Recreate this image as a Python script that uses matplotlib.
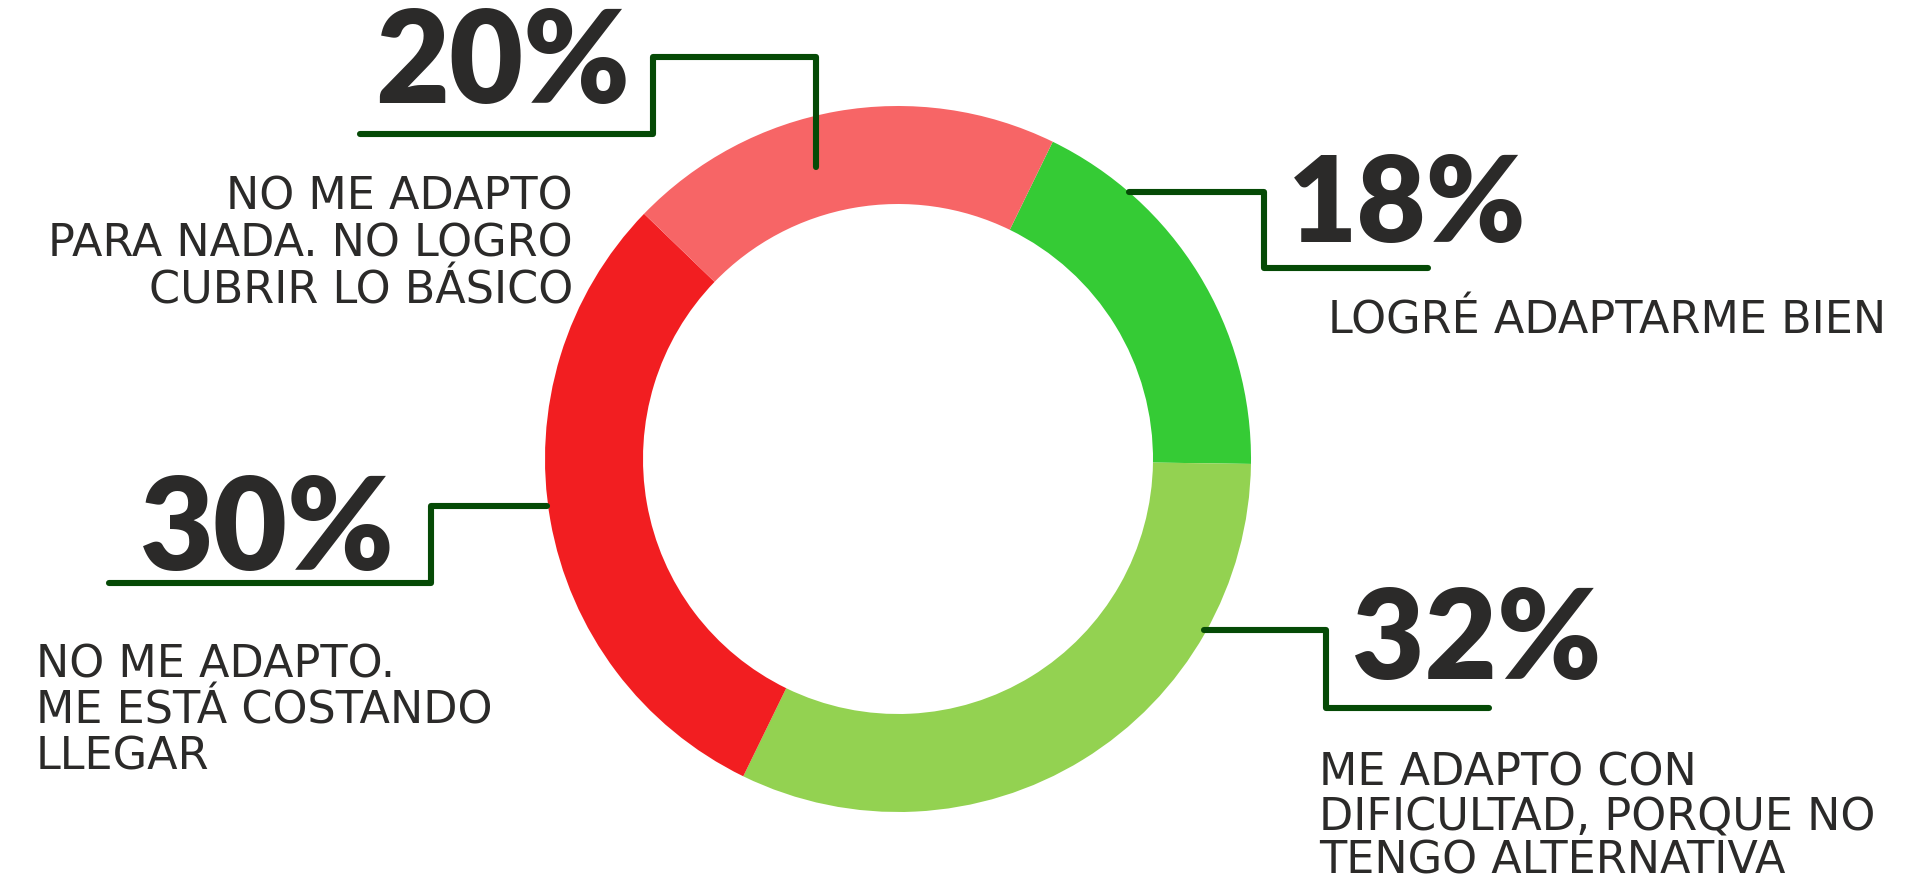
import matplotlib
matplotlib.use("Agg")
import matplotlib.pyplot as plt

# ---------------- data ----------------
categories = ["LOGRÉ ADAPTARME BIEN",
              "ME ADAPTO CON DIFICULTAD, PORQUE NO TENGO ALTERNATIVA",
              "NO ME ADAPTO. ME ESTÁ COSTANDO LLEGAR",
              "NO ME ADAPTO PARA NADA. NO LOGRO CUBRIR LO BÁSICO"]
percentages = [18, 32, 30, 20]
pct_labels = ["18%", "32%", "30%", "20%"]
label_lines = [
    ["LOGRÉ ADAPTARME BIEN"],
    ["ME ADAPTO CON", "DIFICULTAD, PORQUE NO", "TENGO ALTERNATIVA"],
    ["NO ME ADAPTO.", "ME ESTÁ COSTANDO", "LLEGAR"],
    ["NO ME ADAPTO", "PARA NADA. NO LOGRO", "CUBRIR LO BÁSICO"],
]
colors = ["#35CB35", "#93D251", "#F21E21", "#F76566"]

# ---------------- layout (pixel space) ----------------
W, H = 1919, 885
center = (898, 459)
r_out = 353
ring_w = 98
text_col = "#2B2A29"
line_col = "#054A06"

# big percentage: (x, baseline, ha)
pct_pos = [(1288, 242, "left"), (1352, 679, "left"), (140, 570, "left"), (375, 103, "left")]
pct_size = [86, 90, 92, 92]
# label: (x, first baseline, ha, line step)
lab_pos = [(1328, 333, "left", 46.5), (1319, 786, "left", 44),
           (36, 677, "left", 46.5), (573, 210, "right", 46.5)]
lab_size = [32, 32, 32, 32]
leaders = [
    [(1129, 192), (1264, 192), (1264, 268), (1428, 268)],
    [(1204, 630), (1326, 630), (1326, 708), (1489, 708)],
    [(547, 506), (431, 506), (431, 583), (109, 583)],
    [(816, 167), (816, 57), (653, 57), (653, 134), (360, 134)],
]

fig = plt.figure(figsize=(W / 100, H / 100), dpi=100)
ax = fig.add_axes([0, 0, 1, 1])

ax.pie(percentages, colors=colors, center=center, radius=r_out,
       startangle=-64, counterclock=True,
       wedgeprops=dict(width=ring_w, linewidth=0))

ax.set_xlim(0, W)
ax.set_ylim(H, 0)
ax.set_aspect("equal")
ax.axis("off")

for pts in leaders:
    xs = [p[0] for p in pts]
    ys = [p[1] for p in pts]
    ax.plot(xs, ys, color=line_col, lw=4.4, solid_capstyle="round",
            solid_joinstyle="round", zorder=5)

for lab, (x, y, ha), fs in zip(pct_labels, pct_pos, pct_size):
    ax.text(x, y, lab, ha=ha, va="baseline", fontsize=fs, fontweight="heavy",
            family="Lato", color=text_col)

for lines, (x, y, ha, step), fs in zip(label_lines, lab_pos, lab_size):
    for i, ln in enumerate(lines):
        ax.text(x, y + i * step, ln, ha=ha, va="baseline",
                fontsize=fs, fontweight="normal", family="DejaVu Sans",
                color=text_col)

fig.savefig("out.png", dpi=100, facecolor="white")
